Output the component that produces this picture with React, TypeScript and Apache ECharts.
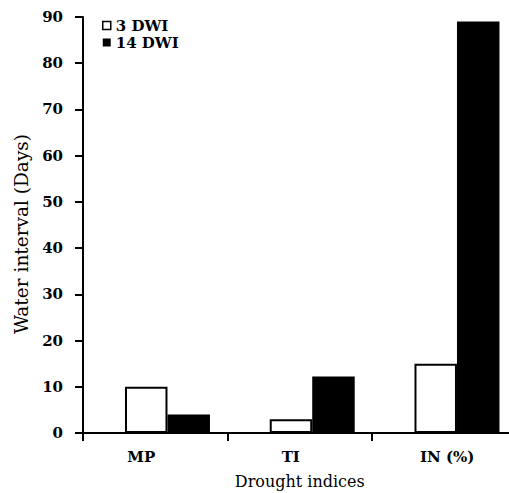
import React, { useEffect, useRef } from "react";
import * as echarts from "echarts";

const categories = ["MP", "TI", "IN (%)"];
const dwi3 = [10, 3, 15];
const dwi14 = [4, 12.2, 89];
const seriesNames = ["3 DWI", "14 DWI"];
const yTitle = "Water interval (Days)";
const xTitle = "Drought indices";

const FONT = "DejaVu Serif";

export default function App() {
  const ref = useRef<HTMLDivElement>(null);
  useEffect(() => {
    if (!ref.current) return;
    const chart = echarts.init(ref.current, null, { renderer: "svg" });
    const labelShift = [
      [0, 28, 0, 0],
      [0, 18, 0, 0],
      [0, 0, 0, 6],
    ];
    const rich: any = {};
    labelShift.forEach((p, i) => {
      rich["r" + i] = {
        fontFamily: FONT,
        fontWeight: "bold",
        fontSize: 15,
        color: "#000",
        padding: p,
      };
    });
    chart.setOption({
      animation: false,
      backgroundColor: "#fff",
      grid: [
        { left: 83, width: 433.5, top: 17, height: 416, containLabel: false, outerBoundsMode: "none" },
        { left: 95.1, width: 434.25, top: 17, height: 416, containLabel: false, outerBoundsMode: "none" },
      ],
      legend: {
        orient: "vertical",
        left: 97,
        top: 13,
        itemWidth: 8,
        itemHeight: 8,
        itemGap: 2,
        icon: "rect",
        textStyle: {
          fontFamily: FONT,
          fontWeight: "bold",
          fontSize: 15,
          color: "#000",
        },
        data: [
          { name: seriesNames[0], itemStyle: { color: "#fff", borderColor: "#000", borderWidth: 1.5 } },
          { name: seriesNames[1], itemStyle: { color: "#000", borderWidth: 0 } },
        ],
      },
      xAxis: [
        {
          type: "category",
          gridIndex: 0,
          data: categories,
          boundaryGap: true,
          axisLine: { show: true, lineStyle: { color: "#000", width: 2 } },
          axisTick: { show: true, length: 8, lineStyle: { color: "#000", width: 2 } },
          axisLabel: {
            margin: 16,
            formatter: (v: string, i: number) => `{r${i}|${v}}`,
            rich,
          },
          name: xTitle,
          nameLocation: "middle",
          nameGap: 40,
          nameTextStyle: { fontFamily: FONT, fontSize: 16, color: "#000" },
          splitLine: { show: false },
        },
        {
          type: "category",
          gridIndex: 1,
          data: categories,
          show: false,
        },
      ],
      yAxis: [
        {
          type: "value",
          gridIndex: 0,
          min: 0,
          max: 90,
          interval: 10,
          axisLine: { show: true, lineStyle: { color: "#000", width: 2 } },
          axisTick: { show: true, length: 8, lineStyle: { color: "#000", width: 2 } },
          axisLabel: {
            margin: 20,
            fontFamily: FONT,
            fontWeight: "bold",
            fontSize: 15,
            color: "#000",
          },
          splitLine: { show: false },
          name: yTitle,
          nameLocation: "middle",
          nameRotate: 90,
          nameGap: 52,
          nameTextStyle: {
            fontFamily: FONT,
            fontSize: 18.5,
            color: "#000",
            padding: [0, 18, 0, 0],
          },
        },
        {
          type: "value",
          gridIndex: 1,
          min: 0,
          max: 90,
          interval: 10,
          show: false,
        },
      ],
      series: [
        {
          name: seriesNames[0],
          type: "bar",
          xAxisIndex: 1,
          yAxisIndex: 1,
          data: dwi3,
          barWidth: 42.5,
          barGap: "0%",
          itemStyle: { color: "#fff", borderColor: "#000", borderWidth: 2 },
        },
        {
          name: seriesNames[1],
          type: "bar",
          xAxisIndex: 1,
          yAxisIndex: 1,
          data: dwi14,
          barWidth: 42.5,
          barGap: "0%",
          itemStyle: { color: "#000", borderColor: "#000", borderWidth: 0 },
        },
      ],
    });
    return () => chart.dispose();
  }, []);
  return (
    <div
      ref={ref}
      style={{ position: "absolute", left: 0, top: 0, width: 509, height: 493 }}
    />
  );
}
